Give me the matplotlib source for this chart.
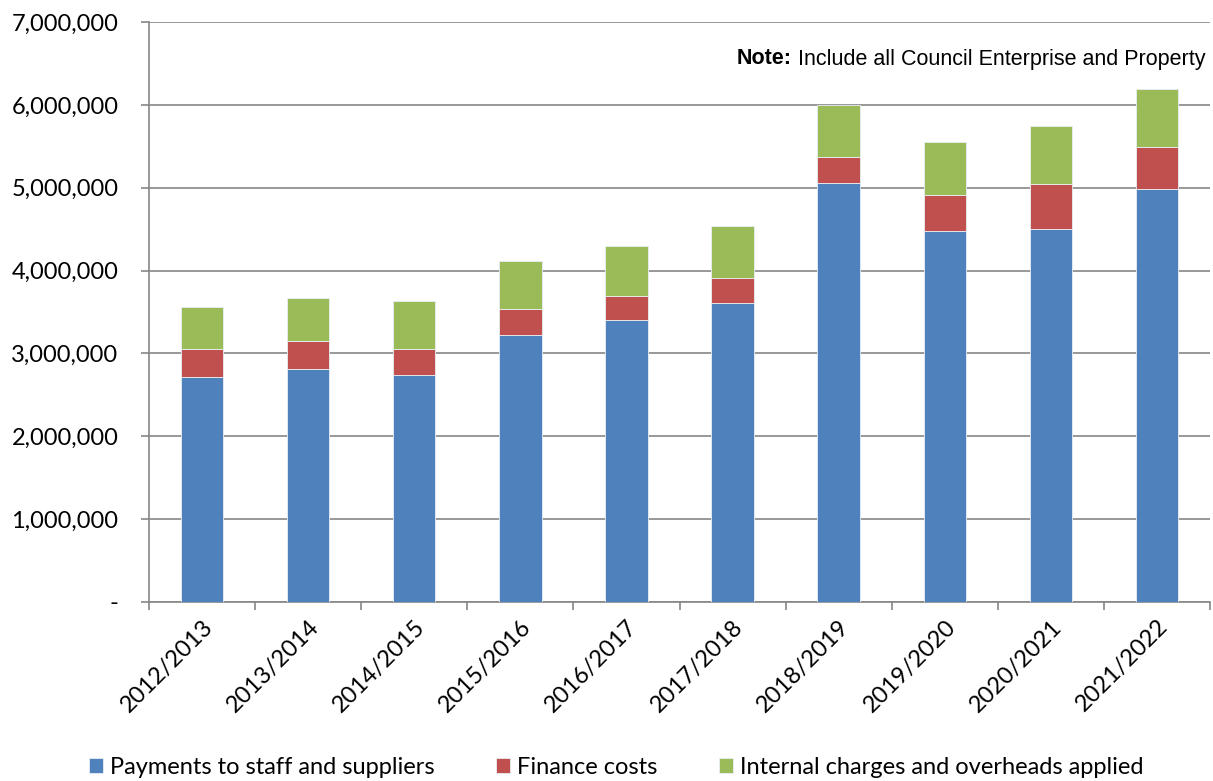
import matplotlib
matplotlib.use('Agg')
import matplotlib.pyplot as plt
from matplotlib.ticker import FuncFormatter
import numpy as np

# Data
years = ['2012/2013', '2013/2014', '2014/2015', '2015/2016', '2016/2017',
         '2017/2018', '2018/2019', '2019/2020', '2020/2021', '2021/2022']
payments = [2715000, 2810000, 2740000, 3220000, 3400000,
            3610000, 5060000, 4480000, 4500000, 4980000]
finance = [338000, 340000, 310000, 320000, 290000,
           300000, 310000, 430000, 540000, 510000]
internal = [507000, 520000, 580000, 580000, 610000,
            630000, 630000, 640000, 700000, 700000]

series_names = ['Payments to staff and suppliers', 'Finance costs',
                'Internal charges and overheads applied']
colors = ['#4F81BD', '#C0504D', '#9BBB59']

plt.rcParams['font.family'] = ['Lato', 'DejaVu Sans']

fig = plt.figure(figsize=(12.13, 7.81), dpi=100)
ax = fig.add_axes([149 / 1213, 1 - 602 / 781, (1210 - 149) / 1213, (602 - 22) / 781])

x = np.arange(len(years))
bottom = np.zeros(len(years))
for vals, name, col in zip([payments, finance, internal], series_names, colors):
    ax.bar(x, vals, width=0.4, bottom=bottom, color=col, edgecolor='#e8eef5',
           linewidth=0.6, label=name, zorder=3)
    bottom += np.array(vals)

ax.set_xlim(-0.5, len(years) - 0.5)
ax.set_ylim(0, 7000000)
ax.set_yticks(np.arange(0, 7000001, 1000000))
ax.yaxis.set_major_formatter(FuncFormatter(lambda v, p: '-' if v == 0 else f'{int(v):,}'))
ax.yaxis.grid(True, color='#868686', linewidth=1.2, zorder=0)

# category boundary ticks on x axis
ax.set_xticks(x)
ax.set_xticklabels(years, rotation=45, ha='right', rotation_mode='anchor', fontsize=17)
ax.tick_params(axis='x', length=0, pad=10)
ax.set_xticks(np.arange(-0.5, len(years)), minor=True)
ax.tick_params(axis='x', which='minor', length=6, color='#868686', width=1.2)
ax.tick_params(axis='y', length=6, color='#868686', width=1.2, labelsize=17, pad=16)

for s in ['top', 'right']:
    ax.spines[s].set_visible(False)
for s in ['left', 'bottom']:
    ax.spines[s].set_color('#868686')
    ax.spines[s].set_linewidth(1.2)

# note: plain part right-aligned, bold "Note:" placed just left of it
note = fig.text(1205 / 1213, 1 - 59 / 781, 'Include all Council Enterprise and Property',
                ha='right', va='center', fontsize=15.5, family='Liberation Sans')
fig.canvas.draw()
bb = note.get_window_extent().transformed(fig.transFigure.inverted())
fig.text(bb.x0 - 6 / 1213, 1 - 59 / 781, 'Note:', ha='right', va='center', fontsize=15.5,
         family='Liberation Sans', fontweight='bold')

fig.legend(loc='center', bbox_to_anchor=(0.508, 1 - 767 / 781), ncol=3, frameon=False,
           fontsize=17, handlelength=0.6, handleheight=0.6, handletextpad=0.3,
           columnspacing=2.6)

fig.savefig('out.png', dpi=100)
